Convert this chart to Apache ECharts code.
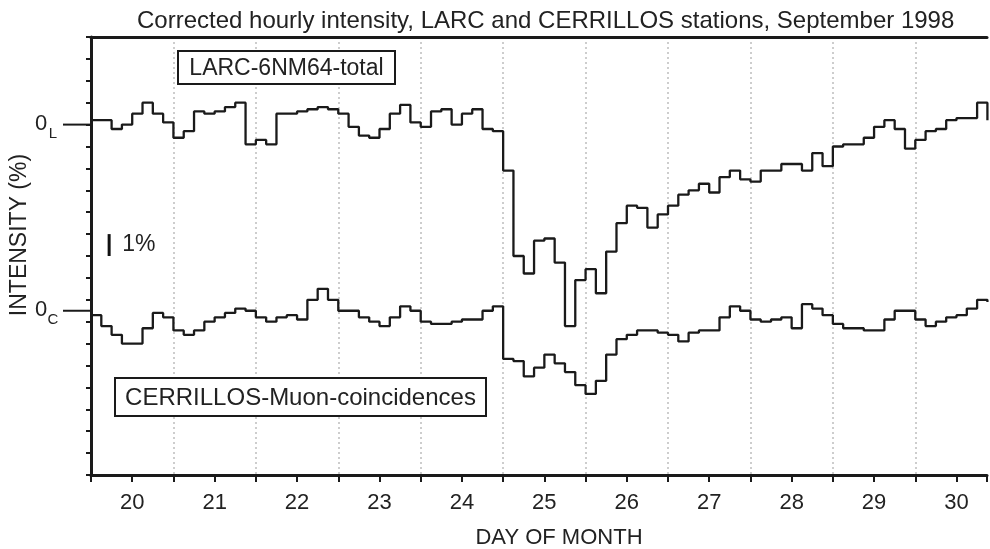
<!DOCTYPE html>
<html><head><meta charset="utf-8">
<script src="https://cdn.jsdelivr.net/npm/echarts@6/dist/echarts.min.js"></script>
<style>html,body{margin:0;padding:0;background:#fff}#c{width:990px;height:549px}</style>
</head><body><div id="c"></div>
<script>
const TITLE = 'Corrected hourly intensity, LARC and CERRILLOS stations, September 1998';
const X_NAME = 'DAY OF MONTH';
const Y_NAME = 'INTENSITY (%)';
const LARC_LABEL = 'LARC-6NM64-total';
const CERR_LABEL = 'CERRILLOS-Muon-coincidences';
const START_DAY = 19.5;      // first sample (day of month)
const STEP_DAYS = 0.125;     // 3-hour samples
const X_MIN = 19.5, X_MAX = 30.37;
const Y_MIN = 0, Y_MAX = 20; // 1 % per tick
const LARC_BASE = 16;        // position of 0_L
const CERR_BASE = 7.5;       // position of 0_C
const SCALE_BAR = [10, 11];  // the "1%" bar
const SCALE_BAR_X = 19.72;

// deviations in % from each station's zero level
const larcDev = [0.2,0.2,-0.2,0,0.5,1.0,0.5,0.1,-0.6,-0.3,
 0.6,0.5,0.6,0.8,1.0,-0.9,-0.7,-0.9,0.5,0.5,
 0.6,0.7,0.8,0.7,0.5,-0.1,-0.5,-0.6,-0.2,0.5,
 0.9,0.1,-0.1,0.6,0.7,0.0,0.5,0.7,-0.2,-0.3,
 -2.1,-6.0,-6.8,-5.3,-5.2,-6.3,-9.2,-7.1,-6.6,-7.7,
 -5.8,-4.5,-3.7,-3.8,-4.7,-4.1,-3.7,-3.2,-3.0,-2.7,
 -3.1,-2.4,-2.1,-2.5,-2.6,-2.1,-2.1,-1.8,-1.8,-2.1,
 -1.3,-1.9,-1.0,-0.9,-0.9,-0.6,-0.1,0.2,-0.2,-1.1,
 -0.7,-0.3,-0.2,0.2,0.3,0.3,1.0,0.2];
const cerrDev = [-0.2,-0.7,-1.1,-1.5,-1.5,-0.8,-0.1,-0.3,-0.9,-1.1,
 -0.9,-0.5,-0.3,-0.1,0.1,0.0,-0.3,-0.5,-0.3,-0.2,
 -0.4,0.5,1.0,0.5,0.0,0.0,-0.3,-0.5,-0.7,-0.3,
 0.2,0.0,-0.5,-0.6,-0.6,-0.5,-0.4,-0.4,0.0,0.2,
 -2.2,-2.3,-3.0,-2.6,-2.0,-2.4,-2.8,-3.4,-3.8,-3.2,
 -2.0,-1.3,-1.1,-0.9,-0.9,-1.0,-1.1,-1.4,-1.0,-0.9,
 -0.9,-0.3,0.2,0.0,-0.4,-0.5,-0.4,-0.3,-0.8,0.3,
 0.1,-0.2,-0.6,-0.8,-0.8,-0.9,-0.9,-0.4,0.0,0.0,
 -0.4,-0.7,-0.5,-0.3,-0.2,0.1,0.5,0.4];

const FONT = '"Liberation Sans", Arial, Helvetica, sans-serif';
const INK = '#1a1a1a';

const chart = echarts.init(document.getElementById('c'), null, {renderer: 'canvas'});
const larcData = larcDev.map((v, i) => [START_DAY + i * STEP_DAYS, LARC_BASE + v]);
const cerrData = cerrDev.map((v, i) => [START_DAY + i * STEP_DAYS, CERR_BASE + v]);

chart.setOption({
  animation: false,
  backgroundColor: '#fff',
  title: {text: TITLE, left: 132, top: 4,
    textStyle: {fontSize: 24, fontWeight: 'normal', color: '#222', fontFamily: FONT}},
  grid: {left: 91, right: 0, top: 37, bottom: 74},
  xAxis: [{
    type: 'value', min: X_MIN, max: X_MAX, interval: 0.5, position: 'bottom',
    axisLine: {show: true, onZero: false, lineStyle: {color: INK, width: 3}},
    axisTick: {show: true, inside: false, length: 7, lineStyle: {color: INK, width: 2}},
    axisLabel: {formatter: v => Number.isInteger(v) ? String(v) : '', fontSize: 22,
      color: '#222', margin: 17, fontFamily: FONT},
    splitLine: {show: false}
  }, {
    type: 'value', min: X_MIN, max: X_MAX, interval: 1, position: 'top',
    axisLine: {show: true, onZero: false, lineStyle: {color: INK, width: 3}},
    axisTick: {show: false}, axisLabel: {show: false},
    splitLine: {show: true, showMinLine: false, showMaxLine: false,
      lineStyle: {color: '#bdbdbd', type: [2, 3], width: 1.5}}
  }],
  yAxis: {
    type: 'value', min: Y_MIN, max: Y_MAX, interval: 1,
    axisLine: {show: true, onZero: false, lineStyle: {color: INK, width: 3}},
    axisTick: {show: true, inside: false, length: 5, lineStyle: {color: INK, width: 2}},
    axisLabel: {show: false}, splitLine: {show: false}
  },
  series: [
    {name: 'LARC', type: 'line', step: 'end', data: larcData, showSymbol: false,
     xAxisIndex: 0, lineStyle: {color: INK, width: 2.3}},
    {name: 'CERRILLOS', type: 'line', step: 'end', data: cerrData, showSymbol: false,
     xAxisIndex: 0, lineStyle: {color: INK, width: 2.3}}
  ]
});

const px = (x, y) => chart.convertToPixel({xAxisIndex: 0, yAxisIndex: 0}, [x, y]);
const pL = px(X_MIN, LARC_BASE);
const pC = px(X_MIN, CERR_BASE);
const b0 = px(SCALE_BAR_X, SCALE_BAR[0]);
const b1 = px(SCALE_BAR_X, SCALE_BAR[1]);

function zeroMark(p, sub) {
  return [
    {type: 'line', shape: {x1: p[0] - 28, y1: p[1], x2: p[0], y2: p[1]},
     style: {stroke: INK, lineWidth: 2}},
    {type: 'text', x: 41, y: p[1] - 1,
     style: {text: '0', fontSize: 22, fontFamily: FONT, fill: '#222', align: 'center', verticalAlign: 'middle'}},
    {type: 'text', x: 53, y: p[1] + 9,
     style: {text: sub, fontSize: 15, fontFamily: FONT, fill: '#222', align: 'center', verticalAlign: 'middle'}}
  ];
}

function labelBox(x, y, w, h, txt, fs) {
  return [
    {type: 'rect', shape: {x: x, y: y, width: w, height: h}, z: 10,
     style: {fill: '#fff', stroke: INK, lineWidth: 2}},
    {type: 'text', x: x + w / 2, y: y + h / 2 + 1, z: 11,
     style: {text: txt, fontSize: fs, fontFamily: FONT, fill: '#222', align: 'center', verticalAlign: 'middle'}}
  ];
}

chart.setOption({
  graphic: [].concat(
    zeroMark(pL, 'L'),
    zeroMark(pC, 'C'),
    labelBox(178, 51, 217, 33, LARC_LABEL, 23),
    labelBox(115, 378, 371, 38, CERR_LABEL, 24),
    [
      {type: 'line', shape: {x1: b0[0], y1: b0[1], x2: b1[0], y2: b1[1]},
       style: {stroke: '#111', lineWidth: 3}},
      {type: 'text', x: b0[0] + 13, y: (b0[1] + b1[1]) / 2,
       style: {text: '1%', fontSize: 23, fontFamily: FONT, fill: '#222', align: 'left', verticalAlign: 'middle'}},
      {type: 'text', x: 559, y: 538,
       style: {text: X_NAME, fontSize: 22, fontFamily: FONT, fill: '#222', align: 'center', verticalAlign: 'middle'}},
      {type: 'text', x: 20, y: 235, rotation: Math.PI / 2,
       style: {text: Y_NAME, fontSize: 23, fontFamily: FONT, fill: '#222', align: 'center', verticalAlign: 'middle'}}
    ]
  )
});
</script>
</body></html>
